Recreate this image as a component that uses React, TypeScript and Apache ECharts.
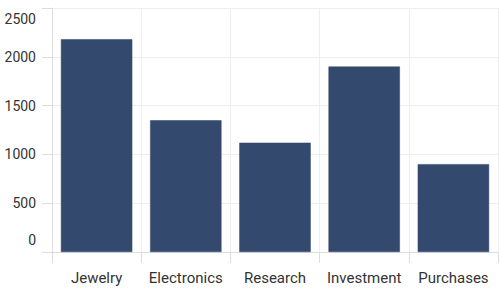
import React, { useEffect, useRef } from "react";
import * as echarts from "echarts";

const categories = ["Jewelry", "Electronics", "Research", "Investment", "Purchases"];
const values = [2180, 1350, 1120, 1900, 900];
const yMin = 0;
const yMax = 2500;
const yStep = 500;

export default function App() {
  const ref = useRef<HTMLDivElement>(null);
  useEffect(() => {
    if (!ref.current) return;
    const chart = echarts.init(ref.current, null, { renderer: "svg" });
    chart.setOption({
      animation: false,
      grid: { left: 52, right: 2, top: 8, bottom: 36, containLabel: false },
      xAxis: {
        type: "category",
        data: categories,
        axisLine: { show: true, lineStyle: { color: "#dddddd", width: 1 } },
        axisTick: { show: true, length: 11, lineStyle: { color: "#dddddd" } },
        axisLabel: { color: "#333333", fontSize: 15, fontFamily: "Roboto", margin: 18, interval: 0 },
        splitLine: { show: true, lineStyle: { color: "#eeeeee" } },
      },
      yAxis: {
        type: "value",
        min: yMin,
        max: yMax,
        interval: yStep,
        axisLine: { show: true, lineStyle: { color: "#dddddd", width: 1 } },
        axisTick: { show: true, length: 10, lineStyle: { color: "#dddddd" } },
        axisLabel: {
          color: "#333333",
          fontSize: 14,
          fontFamily: "Roboto",
          margin: 16,
          verticalAlignMinLabel: "bottom",
          verticalAlignMaxLabel: "top",
          formatter: (v: number) =>
            v === yMin ? "{b|" + v + "}" : v === yMax ? "{t|" + v + "}" : String(v),
          rich: {
            b: { fontSize: 14, fontFamily: "Roboto", color: "#333333", padding: [0, 0, 5, 0] },
            t: { fontSize: 14, fontFamily: "Roboto", color: "#333333", padding: [4, 0, 0, 0] },
          },
        },
        splitLine: { show: true, lineStyle: { color: "#eeeeee" } },
      },
      series: [
        {
          type: "bar",
          data: values,
          barCategoryGap: "20%",
          itemStyle: { color: "#33496d", borderColor: "#2e4466", borderWidth: 0.5 },
        },
      ],
    });
    return () => chart.dispose();
  }, []);
  return <div ref={ref} style={{ width: 500, height: 288, position: "absolute", left: 0, top: 0 }} />;
}
